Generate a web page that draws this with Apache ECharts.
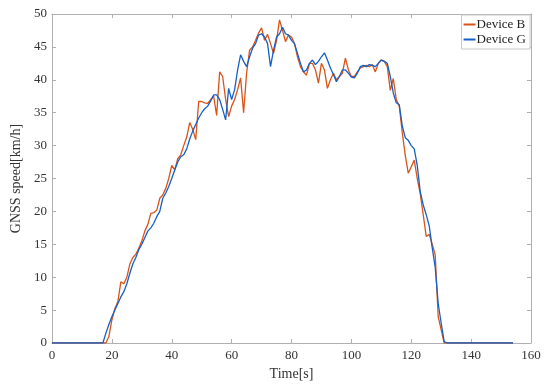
<!DOCTYPE html>
<html>
<head>
<meta charset="utf-8">
<script src="https://cdn.jsdelivr.net/npm/echarts@6/dist/echarts.min.js"></script>
<style>
  html, body { margin: 0; padding: 0; background: #fff; }
  #chart { width: 552px; height: 386px; }
</style>
</head>
<body>
<div id="chart"></div>
<script>
// speed samples, one per second starting at t = 0
const deviceB = [
  0, 0, 0, 0, 0, 0, 0, 0, 0, 0, 0, 0, 0, 0, 0, 0, 0, 0, 0, 1.0,
  3.5, 5.2, 6.3, 9.3, 9.0, 10.0, 12.0, 13.0, 13.5, 14.4,
  15.5, 17.0, 18.0, 19.7, 19.8, 20.2, 22.0, 22.5, 23.5, 25.0,
  27.0, 26.3, 28.0, 28.6, 30.0, 31.3, 33.5, 32.5, 30.9, 36.7,
  36.7, 36.5, 36.4, 37.0, 37.5, 34.6, 41.2, 40.5, 37.0, 34.4,
  36.0, 37.0, 38.5, 40.3, 35.0, 41.0, 44.5, 45.0, 46.0, 47.1,
  47.9, 46.0, 46.9, 45.5, 44.0, 46.0, 49.1, 47.5, 45.8, 46.8,
  46.5, 45.5, 43.5, 42.0, 41.2, 40.7, 42.5, 42.5, 41.5, 39.5,
  42.5, 41.5, 38.7, 40.0, 41.0, 40.0, 40.5, 41.0, 43.3, 41.5,
  40.5, 40.5, 41.2, 41.8, 42.0, 42.2, 42.0, 42.3, 41.2, 42.5,
  43.0, 42.8, 42.0, 38.4, 40.2, 37.0, 36.0, 32.0, 28.5, 25.8,
  26.8, 27.8, 25.0, 22.7, 19.5, 16.2, 16.5, 15.0, 13.4, 4.0,
  2.0, 0, 0, 0, 0, 0, 0, 0, 0, 0,
  0, 0, 0, 0, 0, 0, 0, 0, 0, 0,
  0, 0, 0, 0, 0
];
const deviceG = [
  0, 0, 0, 0, 0, 0, 0, 0, 0, 0, 0, 0, 0, 0, 0, 0, 0, 0, 1.5, 2.8,
  4.0, 5.0, 6.0, 7.0, 7.8, 9.0, 10.6, 12.0, 13.0, 14.2,
  15.0, 16.0, 17.0, 17.5, 18.2, 19.2, 20.0, 22.0, 22.8, 23.8,
  25.0, 26.3, 27.5, 28.3, 28.6, 29.5, 31.0, 32.2, 33.2, 34.2,
  35.0, 35.6, 36.0, 36.8, 37.7, 37.7, 37.0, 35.5, 33.9, 38.7,
  37.0, 38.5, 41.5, 43.8, 42.8, 42.0, 43.5, 44.8, 45.5, 46.8,
  47.0, 46.5, 45.5, 42.0, 44.5, 46.5, 47.0, 48.0, 47.0, 46.8,
  46.0, 45.5, 44.0, 42.5, 41.2, 41.5, 42.5, 43.0, 42.3, 42.8,
  43.5, 44.1, 43.0, 41.8, 40.8, 39.7, 40.5, 41.5, 41.5, 41.0,
  40.4, 40.3, 41.0, 42.0, 42.2, 42.0, 42.3, 42.2, 42.0, 42.5,
  43.0, 42.8, 42.5, 40.5, 38.0, 36.5, 36.2, 33.0, 31.2, 30.8,
  30.0, 29.5, 27.0, 23.0, 21.0, 19.5, 17.8, 14.5, 11.5, 6.0,
  3.0, 0.2, 0, 0, 0, 0, 0, 0, 0, 0,
  0, 0, 0, 0, 0, 0, 0, 0, 0, 0,
  0, 0, 0, 0, 0
];
const seriesNames = ["Device B", "Device G"];

const toPairs = (vals) => vals.map((v, i) => [i, v]);

const font = "'Liberation Serif', 'Times New Roman', serif";
const axisGray = "#b0b0b0";
const textGray = "#333";

const chart = echarts.init(document.getElementById("chart"));

// box axes (top / right copies only carry the inner ticks)
const xBase = {
  type: "value", min: 0, max: 160, interval: 20,
  axisLine: { show: true, onZero: false, lineStyle: { color: axisGray } },
  axisTick: { show: true, inside: true, length: 4, lineStyle: { color: axisGray } },
  splitLine: { show: false },
};
const yBase = {
  type: "value", min: 0, max: 50, interval: 5,
  axisLine: { show: true, onZero: false, lineStyle: { color: axisGray } },
  axisTick: { show: true, inside: true, length: 4, lineStyle: { color: axisGray } },
  splitLine: { show: false },
};

chart.setOption({
  animation: false,
  backgroundColor: "#fff",
  grid: { left: 52, right: 21, top: 14, bottom: 43 },
  legend: {
    data: seriesNames,
    orient: "vertical",
    right: 22,
    top: 15,
    backgroundColor: "#fff",
    borderColor: "#c8c8c8",
    borderWidth: 1,
    padding: [3, 4, 3, 2],
    itemGap: 2,
    itemWidth: 12,
    itemHeight: 2,
    icon: "rect",
    textStyle: { fontFamily: font, fontSize: 13, color: "#222", padding: [0, 0, 0, -4] },
  },
  xAxis: [
    Object.assign({}, xBase, {
      position: "bottom",
      name: "Time[s]",
      nameLocation: "middle",
      nameGap: 23,
      nameTextStyle: { fontFamily: font, fontSize: 14, color: textGray },
      axisLabel: { fontFamily: font, fontSize: 13, color: textGray, margin: 6 },
    }),
    Object.assign({}, xBase, { position: "top", axisLabel: { show: false } }),
  ],
  yAxis: [
    Object.assign({}, yBase, {
      position: "left",
      name: "GNSS speed[km/h]",
      nameLocation: "middle",
      nameGap: 24,
      nameTextStyle: { fontFamily: font, fontSize: 14, color: textGray },
      axisLabel: { fontFamily: font, fontSize: 13, color: textGray, margin: 5 },
    }),
    Object.assign({}, yBase, { position: "right", axisLabel: { show: false } }),
  ],
  series: [
    {
      name: seriesNames[0],
      type: "line",
      data: toPairs(deviceB),
      showSymbol: false,
      color: "#D95319",
      lineStyle: { width: 1.3, color: "#D95319" },
    },
    {
      name: seriesNames[1],
      type: "line",
      data: toPairs(deviceG),
      showSymbol: false,
      color: "#1560C8",
      lineStyle: { width: 1.3, color: "#1560C8" },
    },
  ],
});
</script>
</body>
</html>
